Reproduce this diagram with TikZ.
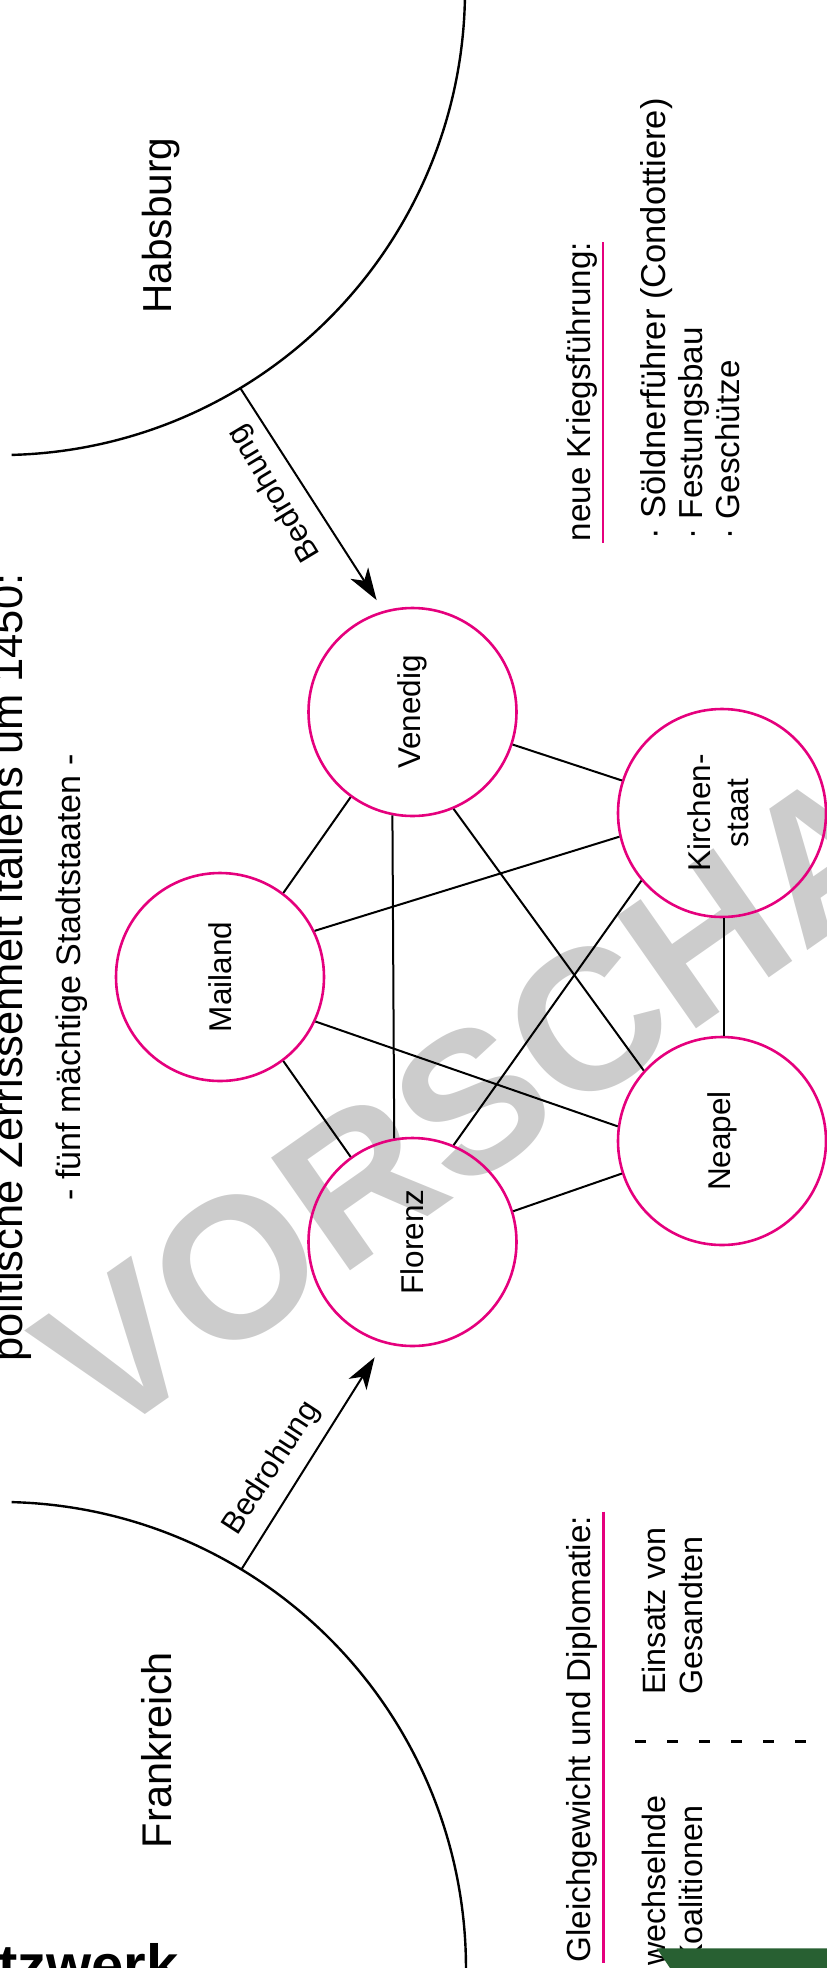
\documentclass[tikz,border=0pt]{standalone}
\usepackage{fontspec}
\setmainfont{Liberation Sans}
\usetikzlibrary{arrows.meta,calc}
\definecolor{mag}{HTML}{E5007D}
\definecolor{wm}{RGB}{204,204,204}
\definecolor{dgreen}{RGB}{40,96,50}
\begin{document}
\begin{tikzpicture}[x=1pt,y=1pt,
  state/.style={circle, draw=mag, line width=2.6pt, minimum size=208pt, inner sep=0pt,
    font=\fontsize{31.5}{37.8}\selectfont},
  edge/.style={line width=2pt},
  threat/.style={line width=2pt, -{Stealth[length=32pt,width=21pt,inset=9pt]}},
  vtext/.style={rotate=90, inner sep=0pt},
  hdr/.style={vtext, anchor=base, font=\fontsize{33.2}{40}\selectfont},
  item/.style={vtext, anchor=base west, font=\fontsize{33.2}{40}\selectfont},
  bed/.style={inner sep=0pt, font=\fontsize{31}{37}\selectfont},
  uline/.style={draw=mag, line width=2.6pt},
  ]
\useasboundingbox (0,0) rectangle (827,-1968);
\clip (0,0) rectangle (827,-1968);

% watermark
\node[rotate=35, text=wm, inner sep=0pt, font=\bfseries\fontsize{200}{200}\selectfont] (wmk) at (532,-1060) {VORSCHAU};

% powers (arcs)
\draw[line width=2.4pt] (11.6,-454.9) arc[start angle=-88.57, end angle=2, radius=465];
\draw[line width=2.4pt] (11.6,-1502.1) arc[start angle=88.57, end angle=-2, radius=466];
\coordinate (hs) at (240.3,-388.1);
\coordinate (fs) at (241.4,-1569.4);
\node[vtext, anchor=base, font=\fontsize{40.5}{48}\selectfont] (habs) at (171,-225.5) {Habsburg};
\node[vtext, anchor=base, font=\fontsize{41.5}{48}\selectfont] (frank) at (171,-1750) {Frankreich};

% title
\node[vtext, anchor=base, font=\fontsize{43.5}{50}\selectfont] (title) at (23,-967.5) {politische Zerrissenheit Italiens um 1450:};
\node[vtext, anchor=base, font=\fontsize{34}{40}\selectfont] (sub) at (80,-977.5) {- fünf mächtige Stadtstaaten -};

% city states
\node[state] (M) at (220,-977) {\rotatebox{90}{Mailand}};
\node[state] (V) at (412.5,-712) {\rotatebox{90}{Venedig}};
\node[state] (K) at (722,-813) {\rotatebox{90}{\begin{tabular}{@{}c@{}}Kirchen-\\staat\end{tabular}}};
\node[state] (N) at (722,-1141) {\rotatebox{90}{Neapel}};
\node[state] (F) at (412.5,-1242) {\rotatebox{90}{Florenz}};

\draw[edge] (V.-18.5) -- (K.162);
\draw[edge] (V.234) -- (M.53.7);
\draw[edge] (V.259.8) -- (F.100.5);
\draw[edge] (V.-67.6) -- (N.138.7);
\draw[edge] (M.26.8) -- (K.193.9);
\draw[edge] (K.220.9) -- (F.67.2);
\draw[edge] (K.-89) -- (N.89);
\draw[edge] (M.-25.3) -- (N.172.2);
\draw[edge] (M.-53.5) -- (F.126);
\draw[edge] (F.17.8) -- (N.198);

% threats
\draw[threat, shorten >=12.7pt] (hs) -- (V.106.7);
\draw[threat, shorten >=16.6pt] (fs) -- (F.254.8);
\node[bed, rotate=121] (b1) at (275,-493.3) {Bedrohung};
\node[bed, rotate=57] (b2) at (271.7,-1468.3) {Bedrohung};

% warfare
\node[hdr] (kh) at (590,-391.7) {neue Kriegsführung:};
\draw[uline] (603,-242) -- (603,-542.7);
\node[item, font=\fontsize{34.5}{40}\selectfont] (k1) at (665,-539.6) {· Söldnerführer (Condottiere)};
\node[item] (k2) at (702,-539.6) {· Festungsbau};
\node[item] (k3) at (739,-539.6) {· Geschütze};

% diplomacy
\node[hdr] (dh) at (590,-1739.2) {Gleichgewicht und Diplomatie:};
\draw[uline] (603.3,-1511.7) -- (603.3,-1963.3);
\node[item, font=\fontsize{32.3}{40}\selectfont] (d1) at (665,-1695) {Einsatz von};
\node[item, font=\fontsize{32.3}{40}\selectfont] (d2) at (702,-1695) {Gesandten};
\node[item, font=\fontsize{32.3}{40}\selectfont] (d3) at (665,-1966) {wechselnde};
\node[item, font=\fontsize{32.3}{40}\selectfont] (d4) at (702,-1966) {Koalitionen};
\draw[line width=3pt, dash pattern=on 11pt off 21pt] (635,-1741.7) -- (808,-1741.7);

% footer pieces
\fill[dgreen] (656.7,-1948.3) -- (827,-1948.3) -- (827,-1968) -- (670,-1968) -- cycle;
\node[anchor=base west, inner sep=0pt, font=\bfseries\fontsize{58}{58}\selectfont] (foot) at (-2,-1985) {tzwerk};
\end{tikzpicture}
\end{document}
